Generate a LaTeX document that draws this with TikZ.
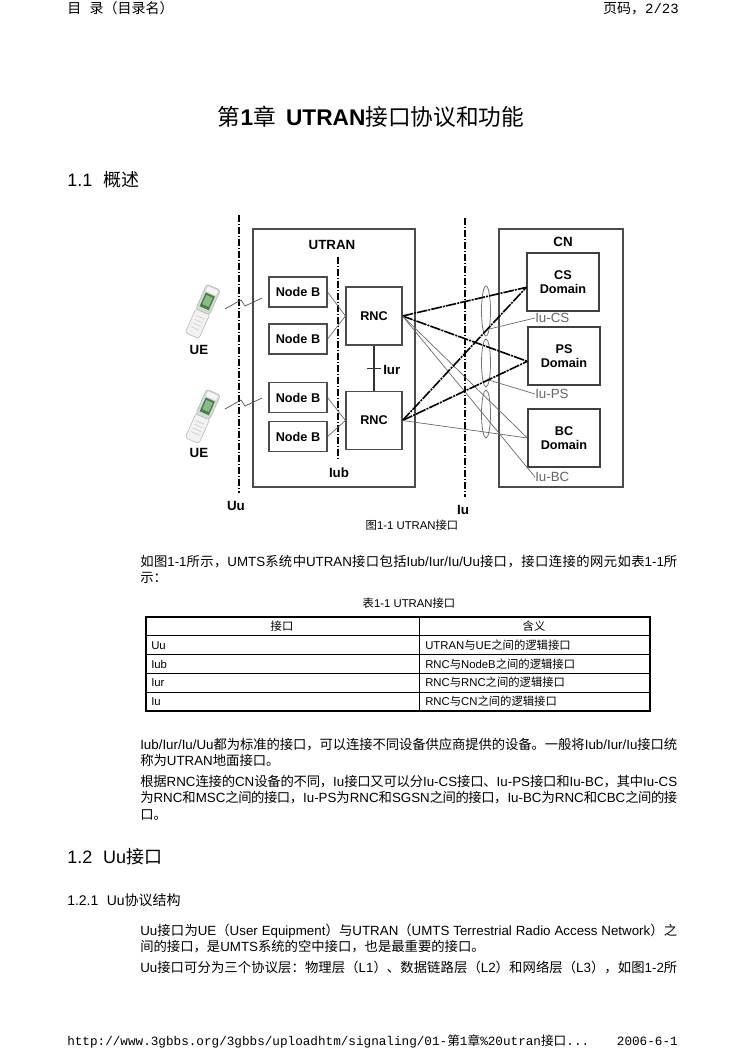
\documentclass[tikz,border=0pt]{standalone}
\usepackage{fontspec}
\setmainfont{Liberation Sans}
\newfontfamily\cjkfont{Noto Sans CJK SC}
\newfontfamily\pagemono{Liberation Mono}
\usetikzlibrary{shapes.geometric}

\XeTeXinterchartokenstate=1
\newXeTeXintercharclass\cjkclass
\newcount\cjkcode
\newcommand\cjkrange[2]{\cjkcode=#1\relax
  \loop\XeTeXcharclass\cjkcode=\cjkclass
  \ifnum\cjkcode<#2\relax\advance\cjkcode by 1\relax\repeat}
\cjkrange{"4E00}{"9FFF}
\cjkrange{"3000}{"303F}
\cjkrange{"FF00}{"FFEF}
\XeTeXinterchartoks 0 \cjkclass={\begingroup\cjkfont}
\XeTeXinterchartoks 4095 \cjkclass={\begingroup\cjkfont}
\XeTeXinterchartoks \cjkclass 0={\endgroup}
\XeTeXinterchartoks \cjkclass 4095={\endgroup}
\XeTeXinterchartoks \cjkclass \cjkclass={\hskip 0pt plus 0.2em minus 0.06em\relax}

\newcommand\fullline[1]{\hbox to 402.75pt{#1}}

\tikzstyle{runhead}=[inner sep=0pt,font=\pagemono\fontsize{10.5}{12}\selectfont]
\tikzstyle{sechead}=[inner sep=0pt,anchor=base west,font=\fontsize{13.5}{16}\selectfont]
\tikzstyle{body}=[inner sep=0pt,anchor=base west,font=\fontsize{10}{12}\selectfont]
\tikzstyle{note}=[inner sep=0pt,anchor=base,font=\fontsize{8.5}{10}\selectfont]
\tikzstyle{cell}=[inner sep=0pt,anchor=base west,font=\fontsize{8.5}{10}\selectfont]
\tikzstyle{outline}=[draw=black!70,line width=0.8pt]
\tikzstyle{box}=[shape=rectangle,draw=black!70,line width=0.8pt,inner sep=0pt,align=center,font=\bfseries\fontsize{9.5}{11}\selectfont]
\tikzstyle{nb}=[box,minimum width=43.5pt,minimum height=22.5pt]
\tikzstyle{rnc}=[box,minimum width=42pt,minimum height=43.5pt]
\tikzstyle{dom}=[box,draw=black!75,line width=1pt,minimum width=54pt,minimum height=43.5pt]
\tikzstyle{lbl}=[inner sep=0pt,font=\bfseries\fontsize{10}{12}\selectfont]
\tikzstyle{iulbl}=[inner sep=0pt,anchor=west,text=black!60,font=\fontsize{10}{12}\selectfont]
\tikzstyle{ring}=[shape=ellipse,draw=black!55,line width=0.6pt,inner sep=0pt,minimum width=6.75pt]
\tikzstyle{fine}=[draw=black!60,line width=0.5pt]
\tikzstyle{heavy}=[draw=black,line width=1.2pt,dash pattern=on 8pt off 0.8pt on 1.5pt off 0.8pt]
\tikzstyle{cut}=[draw=black,line width=1.1pt,dash pattern=on 5pt off 1.5pt on 1pt off 1.5pt]
\tikzstyle{link}=[draw=black!80,line width=0.8pt]

\begin{document}
\begin{tikzpicture}[x=0.75pt,y=-0.75pt]
\path[use as bounding box,fill=white] (0,0) rectangle (744,1052);

\node[runhead,anchor=base west] (hdl) at (67,14) {目 录（目录名）};
\node[runhead,anchor=base east] (hdr) at (679,14) {页码，2/23};
\node[inner sep=0pt,anchor=base,font=\fontsize{17}{20}\selectfont] (title) at (371,126)
  {第\textbf{1}章\hspace{0.45em}\textbf{UTRAN}接口协议和功能};
\node[sechead] (s11) at (67,186.5) {1.1\hspace{0.6em}概述};

\draw[outline] (253,229) rectangle (415,487);
\draw[outline] (499,229) rectangle (623,487);
\node[lbl] (utran) at (332,245) {UTRAN};
\node[lbl] (cn) at (563,242) {CN};
\draw[cut] (239,215) -- (239,493);
\draw[cut] (338,257) -- (338,460);
\draw[cut] (465,218) -- (465,497);
\node[lbl] (uu) at (236,506) {Uu};
\node[lbl] (iub) at (339,473) {Iub};
\node[lbl] (iu) at (463,510) {Iu};

\foreach \y in {311,416} {
  \begin{scope}[shift={(203,\y)},rotate=-24]
    \filldraw[fill=gray!10,draw=gray!60,line width=0.4pt,rounded corners=2pt] (-7.5,0) rectangle (7.5,27);
    \foreach \k in {7,11,15,19} \draw[gray!45,line width=0.4pt] (-4.5,\k) -- (4.5,\k);
    \filldraw[fill=gray!30,draw=gray!60,line width=0.4pt,rounded corners=2pt] (-7.5,-26) rectangle (7.5,1);
    \fill[gray!8] (-5.5,-24.5) rectangle (5.5,-19.5);
    \fill[green!35!black!75] (-5,-18) rectangle (5,-3);
    \fill[green!40!black!45] (-3.5,-16) rectangle (3.5,-6);
  \end{scope}
}
\node[lbl] (ue1) at (199,350) {UE};
\node[lbl] (ue2) at (199,453) {UE};
\coordinate (air1) at (225,309);
\coordinate (air2) at (225,409);
\draw[fine,draw=black!70] (air1) -- ++(16,-9) -- ++(4,6) -- ++(17,-8);
\draw[fine,draw=black!70] (air2) -- ++(16,-9) -- ++(4,6) -- ++(17,-8);

\node[nb] (nb1) at (298,292) {Node B};
\node[nb] (nb2) at (298,339) {Node B};
\node[nb] (nb3) at (298,397.5) {Node B};
\node[nb] (nb4) at (298,436.5) {Node B};
\node[rnc] (rnc1) at (374,316) {RNC};
\node[rnc] (rnc2) at (374,420.5) {RNC};
\node[dom] (cs) at (563,282) {CS\\Domain};
\node[dom] (ps) at (564,356) {PS\\Domain};
\node[dom] (bc) at (564,438) {BC\\Domain};

\path (rnc1.west) edge[fine] (nb1.east) edge[fine] (nb2.east);
\path (rnc2.west) edge[fine] (nb3.east) edge[fine] (nb4.east);
\draw[link] (rnc1.south) -- coordinate (iur) (rnc2.north);
\draw[link] ([xshift=-5pt]iur) -- ([xshift=5pt]iur);
\node[lbl,anchor=west] (iurl) at (383,370) {Iur};

\node[ring,minimum height=37.5pt] (ecs) at (486,311) {};
\node[ring,minimum height=36pt] (eps) at (486,363) {};
\node[ring,minimum height=36pt] (ebc) at (486,414) {};
\node[iulbl] (lcs) at (535,318) {Iu-CS};
\node[iulbl] (lps) at (535,394) {Iu-PS};
\node[iulbl] (lbc) at (535,477) {Iu-BC};

\path (rnc1.east) edge[heavy] ([yshift=-4pt]cs.west) edge[heavy] ([yshift=-4pt]ps.west)
  edge[fine] (bc.west) edge[fine] (lbc.west);
\path (rnc2.east) edge[heavy] ([yshift=-4pt]cs.west) edge[heavy] ([yshift=-4pt]ps.west)
  edge[fine] (bc.west);
\path (ecs.south east) edge[fine] (lcs.west);
\path (eps.south east) edge[fine] (lps.west);

\node[note] (cap) at (412,529) {图1-1 UTRAN接口};

\node[body] (p1a) at (140,566.5) {\fullline{如图1-1所示，UMTS系统中UTRAN接口包括Iub/Iur/Iu/Uu接口，接口连接的网元如表1-1所}};
\node[body] (p1b) at (140,582.5) {示：};

\node[note] (tcap) at (409,607) {表1-1 UTRAN接口};
\draw[line width=0.9pt] (146,617) rectangle (650,711);
\foreach \y in {635.8,654.6,673.4,692.2} \draw[line width=0.6pt] (146,\y) -- (650,\y);
\draw[line width=0.6pt] (419,617) -- (419,711);
\node[note] (th1) at (282,630.4) {接口};
\node[note] (th2) at (534,630.4) {含义};
\foreach \i/\a/\b/\y in {1/Uu/UTRAN与UE之间的逻辑接口/649.2, 2/Iub/RNC与NodeB之间的逻辑接口/668,
    3/Iur/RNC与RNC之间的逻辑接口/686.8, 4/Iu/RNC与CN之间的逻辑接口/705.6} {
  \node[cell] (ka\i) at (151,\y) {\a};
  \node[cell] (kb\i) at (425,\y) {\b};
}

\node[body] (p2a) at (140,749.5) {\fullline{Iub/Iur/Iu/Uu都为标准的接口，可以连接不同设备供应商提供的设备。一般将Iub/Iur/Iu接口统}};
\node[body] (p2b) at (140,765.5) {称为UTRAN地面接口。};
\node[body] (p3a) at (140,786.5) {\fullline{根据RNC连接的CN设备的不同，Iu接口又可以分Iu-CS接口、Iu-PS接口和Iu-BC，其中Iu-CS}};
\node[body] (p3b) at (140,802.5) {\fullline{为RNC和MSC之间的接口，Iu-PS为RNC和SGSN之间的接口，Iu-BC为RNC和CBC之间的接}};
\node[body] (p3c) at (140,819.5) {口。};

\node[sechead] (s12) at (67,863.5) {1.2\hspace{0.6em}Uu接口};
\node[sechead,font=\fontsize{10.5}{12}\selectfont] (s121) at (67,905) {1.2.1\hspace{0.6em}Uu协议结构};

\node[body] (p4a) at (140,935.5) {\fullline{Uu接口为UE（User Equipment）与UTRAN（UMTS Terrestrial Radio Access Network）之}};
\node[body] (p4b) at (140,951.5) {间的接口，是UMTS系统的空中接口，也是最重要的接口。};
\node[body] (p5a) at (140,972.5) {\fullline{Uu接口可分为三个协议层：物理层（L1）、数据链路层（L2）和网络层（L3），如图1-2所}};

\node[runhead,anchor=base west,font=\pagemono\fontsize{9.5}{11}\selectfont] (ftl) at (67,1045.5)
  {http://www.3gbbs.org/3gbbs/uploadhtm/signaling/01-第1章\%20utran接口...};
\node[runhead,anchor=base east,font=\pagemono\fontsize{9.5}{11}\selectfont] (ftr) at (678,1045.5) {2006-6-1};
\end{tikzpicture}
\end{document}
